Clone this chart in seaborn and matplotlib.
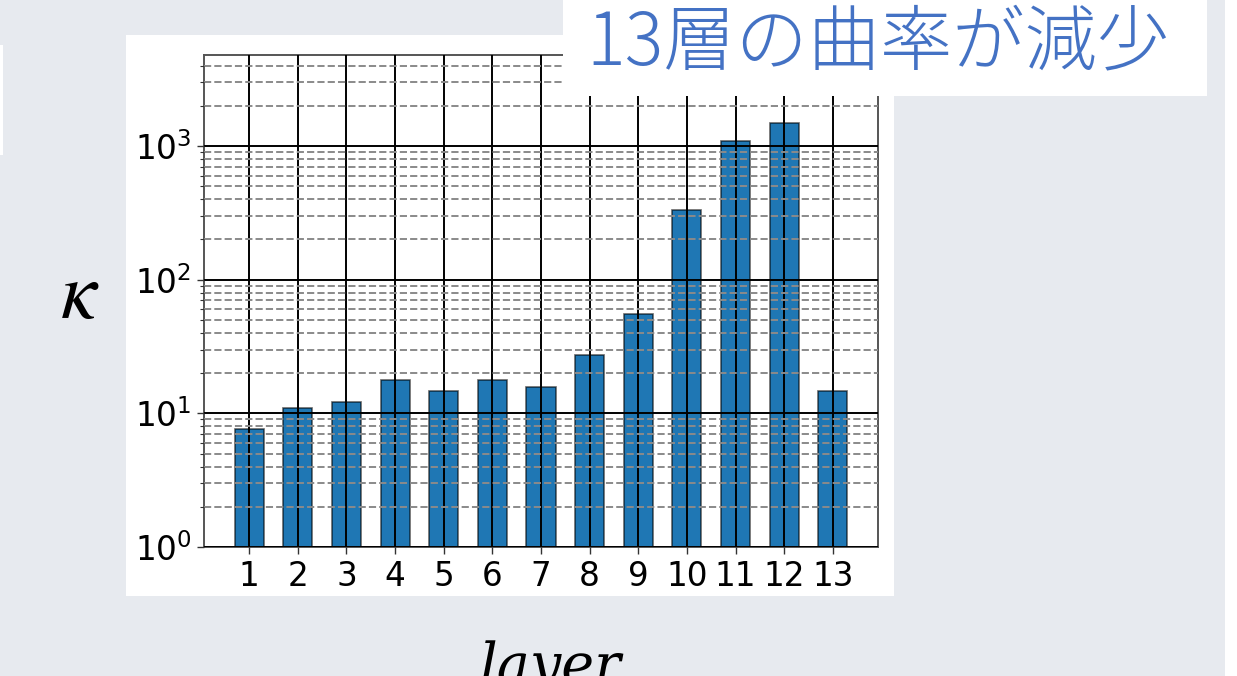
import matplotlib
matplotlib.use("Agg")
import matplotlib.pyplot as plt
from matplotlib.patches import Rectangle
import seaborn as sns
import pandas as pd

# Curvature per layer
layers = ["1", "2", "3", "4", "5", "6", "7", "8", "9", "10", "11", "12", "13"]
kappa = [7.6, 11.0, 12.2, 17.9, 14.7, 17.9, 15.7, 27.1, 55.5, 335, 1096, 1477, 14.8]

title_text = "13層の曲率が減少"
ylabel_text = r"$\kappa$"
xlabel_text = "layer"

df = pd.DataFrame({"layer": layers, "kappa": kappa})

sns.set_theme(style="white")
plt.rcParams["font.family"] = ["DejaVu Sans"]

W, H = 1237, 676
fig = plt.figure(figsize=(W / 100, H / 100), dpi=100)
fig.patch.set_facecolor("white")

def px_rect(x0, y0, x1, y1, color, z):
    r = Rectangle((x0 / W, 1 - y1 / H), (x1 - x0) / W, (y1 - y0) / H,
                  transform=fig.transFigure, facecolor=color, edgecolor="none",
                  zorder=z)
    fig.add_artist(r)

# slide background and white panels
px_rect(0, 0, 1225, H, "#E7EAEF", -3)
px_rect(0, 45, 3, 155, "white", -2)
px_rect(126, 35, 894, 596, "white", -2)

ax = fig.add_axes([204 / W, 1 - 547 / H, (878 - 204) / W, (547 - 55) / H])
ax.set_facecolor("white")
ax.set_yscale("log")

sns.barplot(data=df, x="layer", y="kappa", color="#1f77b4", saturation=1,
            width=0.6, edgecolor=(0, 0, 0, 0.6), linewidth=1.2, ax=ax, zorder=1)

ax.set_ylim(1, 4800)
ax.set_xlim(-0.93, 12.93)
ax.set_xlabel("")
ax.set_ylabel("")

ax.set_axisbelow(False)
ax.xaxis.grid(True, which="major", color="black", linewidth=1.4, zorder=3)
ax.yaxis.grid(True, which="major", color="black", linewidth=1.4, zorder=3)
ax.yaxis.grid(True, which="minor", color="#8a8a8a", linestyle="--", linewidth=1.4, zorder=3)

ax.tick_params(axis="both", which="major", labelsize=23.5, length=5, width=1,
               color="#333333", labelcolor="black", direction="out",
               left=True, bottom=True, pad=4)
ax.tick_params(axis="y", which="minor", length=3, width=0.8, color="#333333", left=True)
for s in ax.spines.values():
    s.set_color("#555555")
    s.set_linewidth(1.4)

# title box over the top of the chart
px_rect(563, 0, 1207, 96, "white", 5)
fig.text(586 / W, 1 - 44 / H, title_text, color="#4472C4", fontsize=52,
         family=["Noto Sans CJK JP", "DejaVu Sans"], fontweight="light",
         ha="left", va="center", zorder=6)

fig.text(80 / W, 1 - 296 / H, ylabel_text, math_fontfamily="stix",
         fontsize=58, ha="center", va="center", color="black")
fig.text(551 / W, 1 - 683 / H, xlabel_text, family="DejaVu Serif", style="italic",
         fontsize=40, ha="center", va="baseline", color="black")

# right edge strip
px_rect(1225, 0, W, H, "white", 7)

fig.savefig("out.png", dpi=100)
